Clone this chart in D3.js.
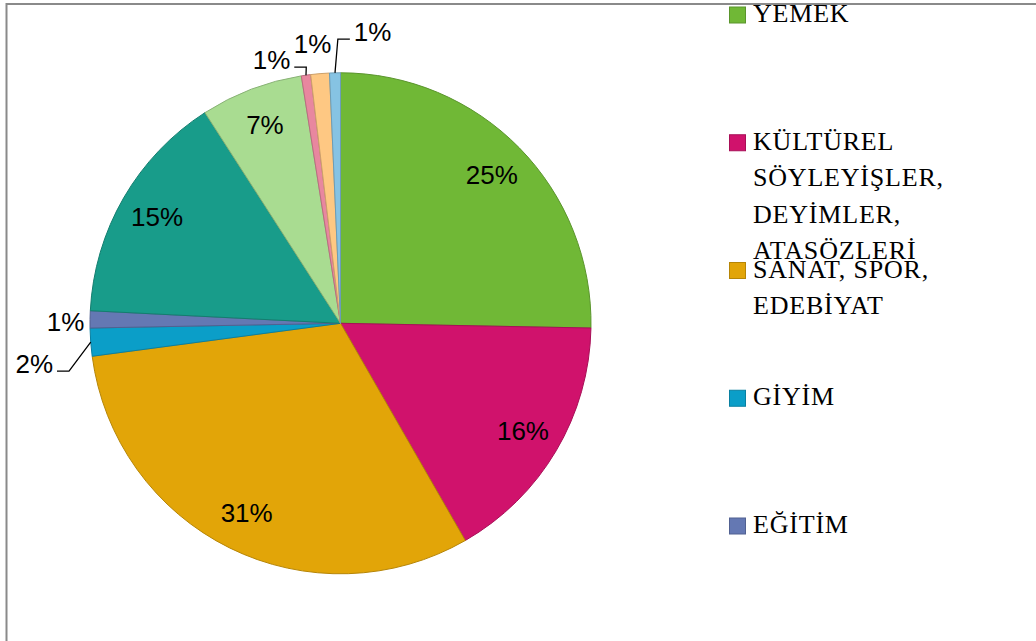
<!DOCTYPE html>
<html>
<head>
<meta charset="utf-8">
<script src="https://cdn.jsdelivr.net/npm/d3@7"></script>
<style>
  html, body { margin: 0; padding: 0; background: #fff; overflow: hidden; }
</style>
</head>
<body>
<div id="chart"></div>
<script>
var categories = ["YEMEK", "KÜLTÜREL SÖYLEYİŞLER, DEYİMLER, ATASÖZLERİ", "SANAT, SPOR, EDEBİYAT",
  "GİYİM", "EĞİTİM", "KATEGORİ 6", "KATEGORİ 7", "KATEGORİ 8", "KATEGORİ 9", "KATEGORİ 10"];
var values = [25.3, 16.4, 31.2, 1.8, 1.1, 15.1, 6.6, 0.6, 1.2, 0.7];
var colors = ["#70b836", "#d0126c", "#e2a508", "#0b9ec8", "#6478b3",
  "#189c8a", "#a9dc91", "#e8879f", "#fec883", "#86c3e3"];

var width = 1036, height = 641;
var cx = 340.5, cy = 323.3, R = 250.5;

// labels that sit outside the pie: [angle in degrees, radius], and whether they get a leader line
var outside = {
  3: { a: 262.4, r: 309, leader: true },
  4: { a: 270.2, r: 275, leader: false },
  7: { a: 345.3, r: 272, leader: true },
  8: { a: 354.3, r: 281, leader: false },
  9: { a: 6.3, r: 293, leader: true }
};

var container = d3.select("#chart");
var svg = container.append("svg")
  .attr("width", width)
  .attr("height", height);

// chart frame (runs off the right and bottom)
svg.append("rect")
  .attr("x", 6.5).attr("y", 4)
  .attr("width", 1200).attr("height", 800)
  .attr("fill", "none")
  .attr("stroke", "#8a8a8a")
  .attr("stroke-width", 2);

var pie = d3.pie().sort(null).value(d => d);
var arcs = pie(values);
var arc = d3.arc().innerRadius(0).outerRadius(R);
var total = d3.sum(values);
var fmt = d3.format(".0%");

var g = svg.append("g").attr("transform", "translate(" + cx + "," + cy + ")");

g.selectAll("path.slice")
  .data(arcs)
  .join("path")
  .attr("class", "slice")
  .attr("d", arc)
  .attr("fill", (d, i) => colors[i])
  .attr("stroke", (d, i) => d3.color(colors[i]).darker(0.6))
  .attr("stroke-width", 1);

function polar(deg, r) {
  var t = deg * Math.PI / 180;
  return [r * Math.sin(t), -r * Math.cos(t)];
}

var labelFont = "'Liberation Sans Narrow', 'Liberation Sans', Arial, sans-serif";

arcs.forEach(function(d, i) {
  var mid = (d.startAngle + d.endAngle) / 2 * 180 / Math.PI;
  var o = outside[i];
  var p = o ? polar(o.a, o.r) : polar(mid, 212);
  var t = g.append("text")
    .attr("x", p[0])
    .attr("y", p[1])
    .attr("dy", "0.35em")
    .attr("text-anchor", "middle")
    .attr("font-family", labelFont)
    .attr("font-size", 26)
    .attr("fill", "#000")
    .text(fmt(d.value / total));

  if (o && o.leader) {
    var bb = t.node().getBBox();
    var p0 = polar(mid, R);
    var ly = p[1] + 7;
    var dir = p[0] < p0[0] ? 1 : -1;
    var edge = dir > 0 ? bb.x + bb.width : bb.x;
    var end = edge + dir * 4;
    var elbow = end + dir * 12;
    g.append("path")
      .attr("d", d3.line()([p0, [elbow, ly], [end, ly]]))
      .attr("fill", "none")
      .attr("stroke", "#000")
      .attr("stroke-width", 1.3);
  }
});

// legend (only the entries that start inside the visible area, as in the cut-off original)
var legendX = 729.5, legendTop = 22, legendStep = 127.75, lineH = 36.5, wrapW = 250;
var legend = svg.append("g");

categories.forEach(function(name, i) {
  var y = legendTop + i * legendStep;
  if (y - 15 >= height) return;
  legend.append("rect")
    .attr("x", legendX).attr("y", y - 15)
    .attr("width", 16).attr("height", 16)
    .attr("fill", colors[i])
    .attr("stroke", d3.color(colors[i]).darker(0.6))
    .attr("stroke-width", 1);

  var text = legend.append("text")
    .attr("x", legendX + 23.5)
    .attr("y", y)
    .attr("font-family", "'Liberation Serif', 'Times New Roman', serif")
    .attr("font-size", 26)
    .attr("letter-spacing", 0.8)
    .attr("fill", "#000");

  var words = name.split(" ");
  var line = [];
  var tspan = text.append("tspan").attr("x", legendX + 23.5).attr("dy", 0);
  words.forEach(function(w) {
    line.push(w);
    tspan.text(line.join(" "));
    if (tspan.node().getComputedTextLength() > wrapW && line.length > 1) {
      line.pop();
      tspan.text(line.join(" "));
      line = [w];
      tspan = text.append("tspan").attr("x", legendX + 23.5).attr("dy", lineH).text(w);
    }
  });
});
</script>
</body>
</html>
